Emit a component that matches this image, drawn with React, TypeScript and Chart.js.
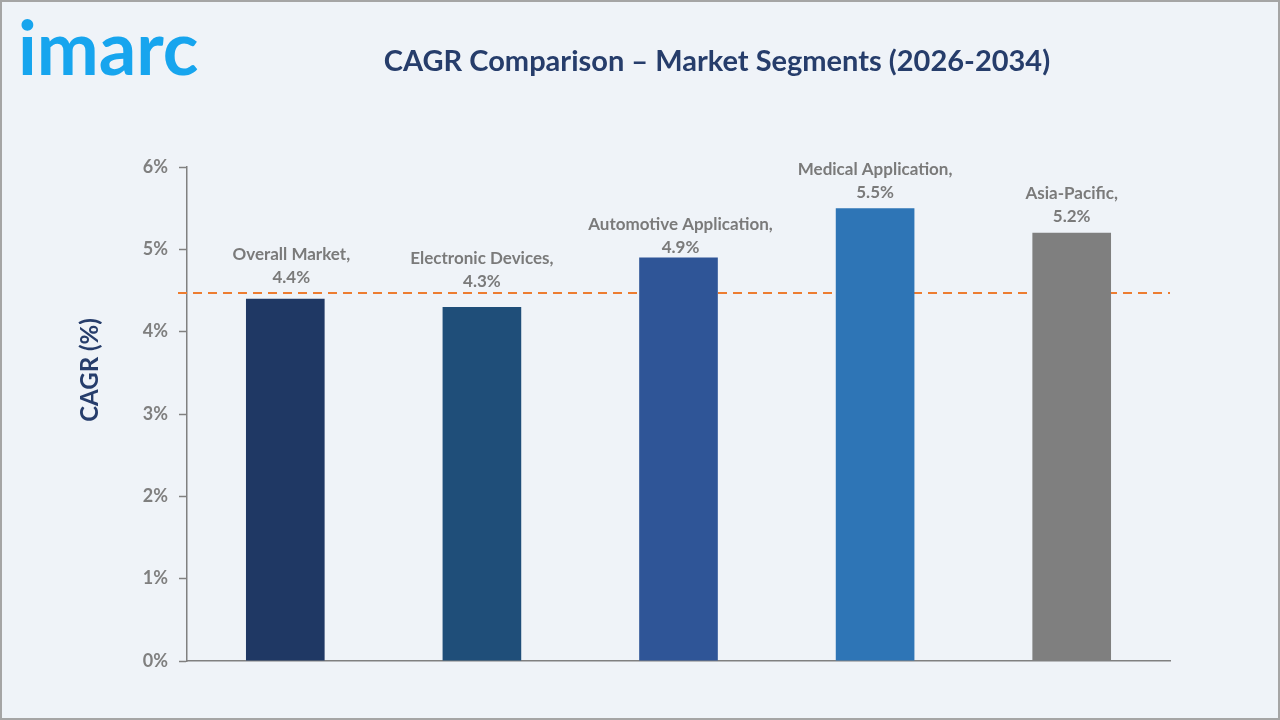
import React, { useEffect, useRef } from "react";
import { Chart, registerables } from "chart.js";

Chart.register(...registerables);

// Segments and their projected CAGR (%)
const categories = [
  "Overall Market",
  "Electronic Devices",
  "Automotive Application",
  "Medical Application",
  "Asia-Pacific",
];
const cagrValues = [4.4, 4.3, 4.9, 5.5, 5.2];
const yTicks = [0, 1, 2, 3, 4, 5, 6];
// Dashed benchmark line level (%)
const benchmarkValue = 4.47;

// Styling
const barColors = ["#1F3864", "#1F4E79", "#2F5597", "#2E75B6", "#7F7F7F"];
const labelLift = [21, 25, 10, 16, 16];
const labelShift = [6, 0, 2, 0, 0];
const FONT = "Lato, 'Open Sans', sans-serif";
const BG = "#EFF3F8";

const benchmarkLine = {
  id: "benchmarkLine",
  beforeDatasetsDraw(chart: any) {
    const { ctx, chartArea, scales } = chart;
    const y = scales.y.getPixelForValue(benchmarkValue);
    ctx.save();
    ctx.strokeStyle = "#ED7D31";
    ctx.lineWidth = 2;
    ctx.setLineDash([9, 6]);
    ctx.beginPath();
    ctx.moveTo(chartArea.left - 9, y);
    ctx.lineTo(chartArea.right, y);
    ctx.stroke();
    ctx.restore();
  },
};

const barLabels = {
  id: "barLabels",
  afterDatasetsDraw(chart: any) {
    const { ctx } = chart;
    const meta = chart.getDatasetMeta(0);
    ctx.save();
    ctx.font = `bold 17px ${FONT}`;
    ctx.fillStyle = "#7A7A7A";
    ctx.textAlign = "center";
    ctx.textBaseline = "middle";
    meta.data.forEach((bar: any, i: number) => {
      const x = bar.x + labelShift[i];
      const yBottom = bar.y - labelLift[i];
      ctx.fillText(`${cagrValues[i].toFixed(1)}%`, x, yBottom);
      ctx.fillText(`${categories[i]},`, x, yBottom - 23);
    });
    ctx.restore();
  },
};

export default function App() {
  const canvasRef = useRef<HTMLCanvasElement | null>(null);

  useEffect(() => {
    let chart: Chart | null = null;
    let cancelled = false;
    const build = () => {
      if (cancelled || !canvasRef.current) return;
      chart = new Chart(canvasRef.current, {
        type: "bar",
        data: {
          labels: categories,
          datasets: [
            {
              data: cagrValues,
              backgroundColor: barColors,
              borderWidth: 0,
              barPercentage: 0.4,
              categoryPercentage: 1,
            },
          ],
        },
        options: {
          responsive: false,
          animation: false,
          layout: { padding: { left: 0, top: 167, right: 110, bottom: 59 } },
          plugins: {
            legend: { display: false },
            tooltip: { enabled: false },
            title: { display: false },
          },
          scales: {
            x: {
              ticks: { display: false },
              grid: { display: false },
              border: { color: "#808080", width: 1.5 },
              afterFit(s: any) {
                s.height = 0;
              },
            },
            y: {
              min: yTicks[0],
              max: yTicks[yTicks.length - 1],
              afterBuildTicks(s: any) {
                s.ticks = yTicks.map((v) => ({ value: v }));
              },
              ticks: {
                callback: (v: any) => `${v}%`,
                font: { family: FONT, size: 18, weight: "bold" },
                color: "#7F7F7F",
                padding: 11,
              },
              grid: {
                drawOnChartArea: false,
                drawTicks: true,
                tickLength: 8,
                tickWidth: 1.5,
                tickColor: "#808080",
              },
              border: { color: "#808080", width: 1.5 },
              afterFit(s: any) {
                s.width = 187;
              },
            },
          },
        },
        plugins: [benchmarkLine, barLabels],
      });
    };
    const fontsReady = (document as any).fonts
      ? Promise.all([
          (document as any).fonts.load(`bold 17px Lato`),
          (document as any).fonts.load(`bold 18px Lato`),
        ]).catch(() => null)
      : Promise.resolve(null);
    fontsReady.then(build);
    return () => {
      cancelled = true;
      if (chart) chart.destroy();
    };
  }, []);

  return (
    <div
      style={{
        position: "fixed",
        left: 0,
        top: 0,
        width: 1280,
        height: 720,
        background: BG,
        overflow: "hidden",
        fontFamily: FONT,
      }}
    >
      <canvas
        ref={canvasRef}
        width={1280}
        height={720}
        style={{ position: "absolute", left: 0, top: 0, width: 1280, height: 720 }}
      />
      <div
        style={{
          position: "absolute",
          left: 18,
          top: 2,
          fontSize: 74,
          fontWeight: 700,
          color: "#17A5EE",
          letterSpacing: 0,
          lineHeight: "90px",
        }}
      >
        imarc
      </div>
      <div
        style={{
          position: "absolute",
          left: 317,
          width: 800,
          top: 40,
          textAlign: "center",
          fontSize: 29,
          fontWeight: 700,
          color: "#263D6B",
          lineHeight: "40px",
        }}
      >
        CAGR Comparison – Market Segments (2026-2034)
      </div>
      <div
        style={{
          position: "absolute",
          left: 88,
          top: 370,
          transform: "translate(-50%, -50%) rotate(-90deg)",
          whiteSpace: "nowrap",
          fontSize: 24,
          fontWeight: 700,
          color: "#263D6B",
        }}
      >
        CAGR (%)
      </div>
      <div
        style={{
          position: "absolute",
          left: 0,
          top: 0,
          width: 1280,
          height: 720,
          boxSizing: "border-box",
          border: "2px solid #A5A5A5",
          pointerEvents: "none",
        }}
      />
    </div>
  );
}
